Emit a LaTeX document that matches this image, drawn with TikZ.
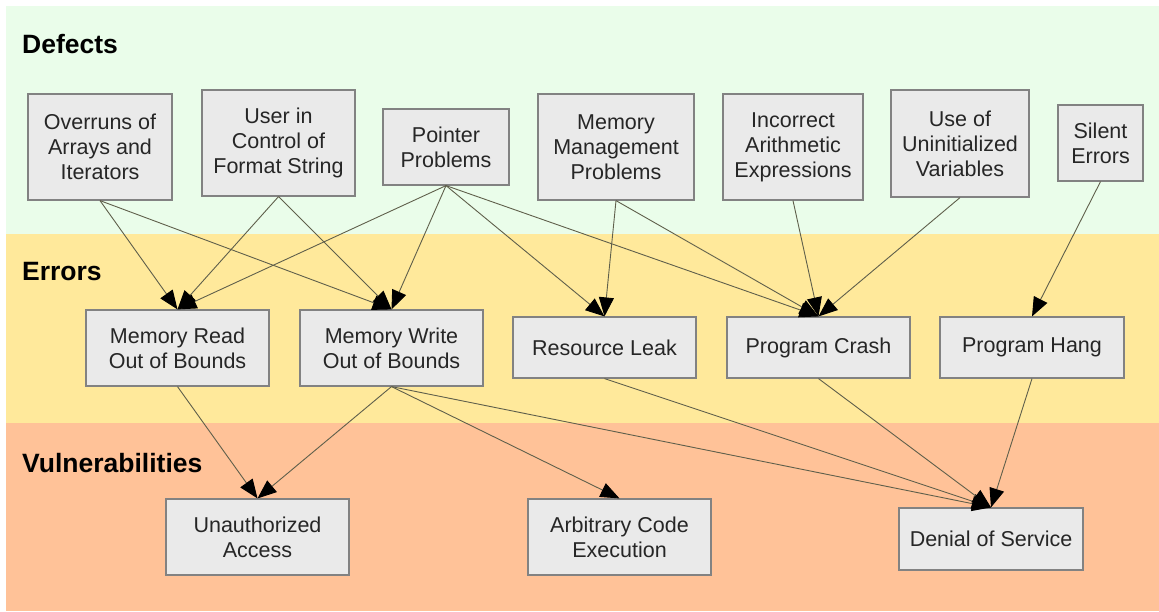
\documentclass[tikz,border=0pt]{standalone}
\usepackage{fontspec}
\setmainfont{Liberation Sans}
\usetikzlibrary{arrows.meta}
\definecolor{bandgreen}{RGB}{234,253,234}
\definecolor{bandyellow}{RGB}{255,233,155}
\definecolor{bandorange}{RGB}{255,194,152}
\definecolor{boxfill}{RGB}{234,234,234}
\definecolor{boxline}{RGB}{130,130,130}
\definecolor{edgecol}{RGB}{95,95,75}
\tikzset{
  box/.style={draw=boxline, line width=1.2pt, fill=boxfill, align=center, inner sep=0pt,
    font=\fontsize{21.5}{25}\selectfont, text=black!85},
  band label/.style={anchor=west, font=\fontsize{26.5}{30}\selectfont\bfseries, inner sep=0pt},
  edge/.style={draw=edgecol, line width=0.9pt, -{Triangle[length=19pt,width=15pt,fill=black,color=black]}},
}
\begin{document}
\begin{tikzpicture}[x=1pt,y=-1pt]
\useasboundingbox (0,0) rectangle (1159,611);
\fill[white] (0,0) rectangle (1159,611);
\fill[bandgreen] (6,6) rectangle (1159,234);
\fill[bandyellow] (6,234) rectangle (1159,423);
\fill[bandorange] (6,423) rectangle (1159,611);

\node[band label] (Ldef) at (22,44) {Defects};
\node[band label] (Lerr) at (22,272) {Errors};
\node[band label] (Lvul) at (22,463) {Vulnerabilities};

% defects
\node[box, minimum width=144pt, minimum height=106pt] (over) at (100,147) {Overruns of\\Arrays and\\Iterators};
\node[box, minimum width=153pt, minimum height=106pt] (user) at (278.5,143) {User in\\Control of\\Format String};
\node[box, minimum width=126pt, minimum height=76pt] (ptr) at (446,147) {Pointer\\Problems};
\node[box, minimum width=156pt, minimum height=106pt] (mem) at (616,147) {Memory\\Management\\Problems};
\node[box, minimum width=140pt, minimum height=106pt] (arith) at (793,147) {Incorrect\\Arithmetic\\Expressions};
\node[box, minimum width=138pt, minimum height=107pt] (uninit) at (960,143.5) {Use of\\Uninitialized\\Variables};
\node[box, minimum width=85pt, minimum height=76pt] (silent) at (1100.5,143) {Silent\\Errors};

% errors
\node[box, minimum width=183pt, minimum height=76pt] (mread) at (177.5,348) {Memory Read\\Out of Bounds};
\node[box, minimum width=183pt, minimum height=76pt] (mwrite) at (391.5,348) {Memory Write\\Out of Bounds};
\node[box, minimum width=183pt, minimum height=61pt] (leak) at (604.5,347.5) {Resource Leak};
\node[box, minimum width=183pt, minimum height=61pt] (crash) at (818.5,347.5) {Program Crash};
\node[box, minimum width=184pt, minimum height=61pt] (hang) at (1032,347.5) {Program Hang};

% vulnerabilities
\node[box, minimum width=183pt, minimum height=76pt] (unauth) at (257.5,537) {Unauthorized\\Access};
\node[box, minimum width=183pt, minimum height=76pt] (arb) at (619.5,537) {Arbitrary Code\\Execution};
\node[box, minimum width=184pt, minimum height=62pt] (dos) at (991,539) {Denial of Service};

% edges
\draw[edge] (over.south) -- (mread.north);
\draw[edge] (over.south) -- (mwrite.north);
\draw[edge] (user.south) -- (mread.north);
\draw[edge] (user.south) -- (mwrite.north);
\draw[edge] (ptr.south) -- (mread.north);
\draw[edge] (ptr.south) -- (mwrite.north);
\draw[edge] (ptr.south) -- (leak.north);
\draw[edge] (ptr.south) -- (crash.north);
\draw[edge] (mem.south) -- (leak.north);
\draw[edge] (mem.south) -- (crash.north);
\draw[edge] (arith.south) -- (crash.north);
\draw[edge] (uninit.south) -- (crash.north);
\draw[edge] (silent.south) -- (hang.north);
\draw[edge] (mread.south) -- (unauth.north);
\draw[edge] (mwrite.south) -- (unauth.north);
\draw[edge] (mwrite.south) -- (arb.north);
\draw[edge] (mwrite.south) -- (dos.north);
\draw[edge] (leak.south) -- (dos.north);
\draw[edge] (crash.south) -- (dos.north);
\draw[edge] (hang.south) -- (dos.north);
\end{tikzpicture}
\end{document}
